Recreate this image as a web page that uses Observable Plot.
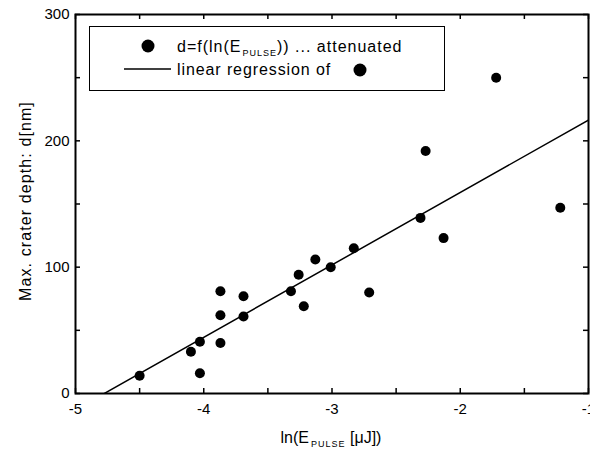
<!DOCTYPE html>
<html><head><meta charset="utf-8">
<script src="https://cdn.jsdelivr.net/npm/d3@7"></script>
<script src="https://cdn.jsdelivr.net/npm/@observablehq/plot@0.6"></script>
<style>
body{margin:0;background:#fff}
svg{font-family:Arial,"Liberation Sans",sans-serif}
</style>
</head><body><div id="chart"></div>
<script>
// ln(E_PULSE [µJ]) and crater depth d [nm]
const lnE   = [-4.50, -4.10, -4.03, -4.03, -3.87, -3.87, -3.87, -3.69, -3.69, -3.32, -3.26, -3.22, -3.13, -3.01, -2.83, -2.71, -2.31, -2.27, -2.13, -1.72, -1.22];
const depth = [14, 33, 41, 16, 81, 62, 40, 77, 61, 81, 94, 69, 106, 100, 115, 80, 139, 192, 123, 250, 147];
const xTicks = [-5, -4, -3, -2, -1];
const xMinor = [-5, -4.5, -4, -3.5, -3, -2.5, -2, -1.5, -1];
const yTicks = [0, 100, 200, 300];
const yMinor = [0, 50, 100, 150, 200, 250, 300];
const xDomain = [-5, -1];
const yDomain = [0, 300];

const data = lnE.map((x, i) => ({x, y: depth[i]}));

// least-squares linear regression of the points
const mx = d3.mean(lnE), my = d3.mean(depth);
const slope = d3.sum(data, d => (d.x - mx) * (d.y - my)) / d3.sum(data, d => (d.x - mx) ** 2);
const intercept = my - slope * mx;
const regLine = xDomain.map(x => ({x, y: intercept + slope * x}));

const W = 590, H = 453, mL = 75, mR = 2, mT = 14, mB = 60;
const innerW = W - mL - mR, innerH = H - mT - mB, tk = 5;
const fmt = d => String(d);

const svg = Plot.plot({
  width: W, height: H,
  marginLeft: mL, marginRight: mR, marginTop: mT, marginBottom: mB,
  x: {domain: xDomain},
  y: {domain: yDomain},
  style: {fontFamily: 'Arial, "Liberation Sans", sans-serif', fontSize: "15px", color: "#000", background: "#fff"},
  marks: [
    Plot.line(regLine, {x: "x", y: "y", stroke: "#000", strokeWidth: 1.5, clip: true}),
    Plot.dot(data, {x: "x", y: "y", r: 5, fill: "#000", stroke: "none"}),
    // inward ticks on all four sides
    Plot.ruleX(xMinor, {x: d => d, insetTop: innerH - tk, stroke: "#000", strokeWidth: 1.5}),
    Plot.ruleX(xMinor, {x: d => d, insetBottom: innerH - tk, stroke: "#000", strokeWidth: 1.5}),
    Plot.ruleY(yMinor, {y: d => d, insetRight: innerW - tk, stroke: "#000", strokeWidth: 1.5}),
    Plot.ruleY(yMinor, {y: d => d, insetLeft: innerW - tk, stroke: "#000", strokeWidth: 1.5}),
    Plot.axisX({anchor: "bottom", ticks: xTicks, tickSize: 0, tickPadding: 10, tickFormat: fmt, label: null}),
    Plot.axisY({anchor: "left", ticks: yTicks, tickSize: 0, tickPadding: 6, tickFormat: fmt, label: null}),
    Plot.frame({stroke: "#000", strokeWidth: 2})
  ]
});

document.getElementById("chart").appendChild(svg);

const s = d3.select(svg);
const font = 'Arial, "Liberation Sans", sans-serif';

// x axis title with subscript
const xt = s.append("text").attr("x", 331).attr("y", 443).attr("text-anchor", "middle")
  .attr("font-size", 16).attr("font-family", font).attr("fill", "#000");
xt.append("tspan").text("ln(E");
xt.append("tspan").attr("font-size", 9).attr("dy", 4).attr("dx", 2).attr("letter-spacing", 1).text("PULSE");
xt.append("tspan").attr("dy", -4).text(" [μJ])");

// y axis title
s.append("text").attr("transform", "translate(31,201) rotate(-90)").attr("text-anchor", "middle")
  .attr("font-size", 16).attr("font-family", font).attr("fill", "#000").attr("letter-spacing", 1.1)
  .text("Max. crater depth: d[nm]");

// legend
const lg = s.append("g").attr("text-anchor", "start");
lg.append("rect").attr("x", 89.5).attr("y", 26.5).attr("width", 355).attr("height", 64)
  .attr("fill", "#fff").attr("stroke", "#000").attr("stroke-width", 1);
lg.append("circle").attr("cx", 148).attr("cy", 46).attr("r", 6.5).attr("fill", "#000");
const t1 = lg.append("text").attr("x", 177).attr("y", 52).attr("text-anchor", "start")
  .attr("font-size", 16).attr("font-family", font).attr("fill", "#000").attr("letter-spacing", 1);
t1.append("tspan").text("d=f(ln(E");
t1.append("tspan").attr("font-size", 9).attr("dy", 4).attr("dx", 1).text("PULSE");
t1.append("tspan").attr("dy", -4).text(")) ... attenuated");
lg.append("line").attr("x1", 124).attr("x2", 171).attr("y1", 69).attr("y2", 69).attr("stroke", "#000").attr("stroke-width", 1.5);
lg.append("text").attr("x", 177).attr("y", 75).attr("text-anchor", "start")
  .attr("font-size", 16).attr("font-family", font).attr("fill", "#000").attr("letter-spacing", 0.9)
  .text("linear regression of");
lg.append("circle").attr("cx", 360).attr("cy", 70).attr("r", 6.5).attr("fill", "#000");
</script>
</body></html>
